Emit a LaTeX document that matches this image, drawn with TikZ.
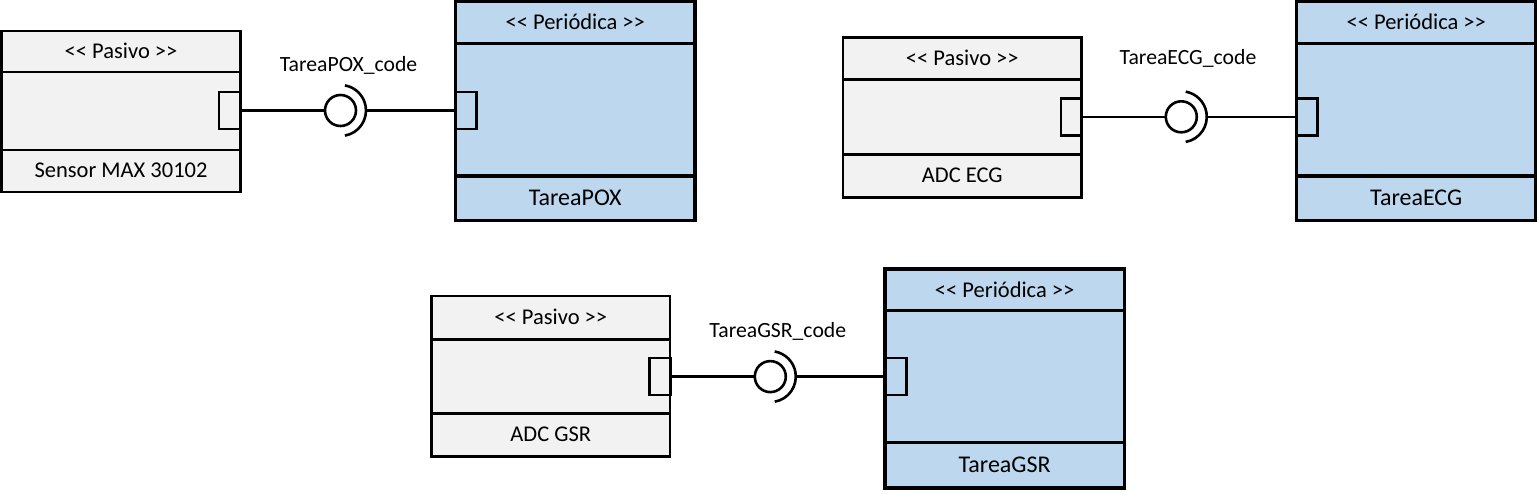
\documentclass[tikz,border=0pt]{standalone}
\usepackage{fontspec}
\setmainfont{Carlito}
\definecolor{pasfill}{HTML}{F2F2F2}
\definecolor{perfill}{HTML}{BDD7EE}
\tikzset{
  pas/.style={draw, line width=2.6pt, fill=pasfill, minimum width=238.5pt, inner sep=0pt,
    font=\fontsize{22.5}{27}\selectfont, text height=13.5pt, text depth=0pt},
  per/.style={draw, line width=3.2pt, fill=perfill, minimum width=239.5pt, inner sep=0pt,
    font=\fontsize{22.5}{27}\selectfont, text height=15pt, text depth=0pt},
  pername/.style={per, font=\fontsize{24}{29}\selectfont, text height=15pt},
  port/.style={draw, line width=2.6pt, minimum width=21pt, minimum height=37pt, inner sep=0pt},
  iface/.style={circle, draw, line width=2.6pt, minimum size=31pt, inner sep=0pt, fill=white},
  lbl/.style={font=\fontsize{21.7}{26}\selectfont, anchor=base, inner sep=0pt},
  wire/.style={line width=2.6pt}
}
\begin{document}
\begin{tikzpicture}[x=1pt,y=-1pt]
\useasboundingbox (0,0) rectangle (1537,495);
% ---------- Group 1: POX ----------
\node[pas, minimum height=41pt] (P1h) at (121,51.5) {<{}< Pasivo >{}>};
\node[pas, minimum height=78pt] (P1m) at (121,111) {};
\node[pas, minimum height=42pt] (P1f) at (121,171) {Sensor MAX 30102};
\node[port] (P1p) at (229.5,110.5) {};
\node[per, minimum height=42pt] (R1h) at (455.5+119.75,22.5) {<{}< Periódica >{}>};
\node[per, minimum height=132.5pt] (R1m) at (455.5+119.75,109.75) {};
\node[pername, minimum height=44.5pt] (R1f) at (455.5+119.75,198.25) {TareaPOX};
\node[port] (R1p) at (466,110.5) {};
\node[iface] (I1) at (340.5,110.5) {};
\path (I1.center) ++(25.5pt,0) coordinate (A1);
\draw[wire] (I1.center) ++(-80:25.5pt) arc[start angle=-80, end angle=80, radius=25.5pt];
\draw[wire] (P1p.east) -- (I1.west);
\draw[wire] (A1) -- (R1p.west);
\node[lbl] (L1) at (348.5,71.7) {TareaPOX\_code};
% ---------- Group 2: ECG ----------
\node[pas, minimum height=42pt] (P2h) at (962.25,58.3) {<{}< Pasivo >{}>};
\node[pas, minimum height=75.2pt] (P2m) at (962.25,116.9) {};
\node[pas, minimum height=42.8pt] (P2f) at (962.25,175.9) {ADC ECG};
\node[port] (P2p) at (1071.5,116.8) {};
\node[per, minimum height=42pt] (R2h) at (1296.7+119.5,22.5) {<{}< Periódica >{}>};
\node[per, minimum height=132.5pt] (R2m) at (1296.7+119.5,109.75) {};
\node[pername, minimum height=44.5pt] (R2f) at (1296.7+119.5,198.25) {TareaECG};
\node[port] (R2p) at (1307.2,116.8) {};
\node[iface] (I2) at (1181.3,116.8) {};
\path (I2.center) ++(25.5pt,0) coordinate (A2);
\draw[wire] (I2.center) ++(-80:25.5pt) arc[start angle=-80, end angle=80, radius=25.5pt];
\draw[wire] (P2p.east) -- (I2.west);
\draw[wire] (A2) -- (R2p.west);
\node[lbl] (L2) at (1188,64) {TareaECG\_code};
% ---------- Group 3: GSR ----------
\node[pas, minimum height=43.3pt] (P3h) at (550.75,317.65) {<{}< Pasivo >{}>};
\node[pas, minimum height=74.4pt] (P3m) at (550.75,376.5) {};
\node[pas, minimum height=42.6pt] (P3f) at (550.75,435) {ADC GSR};
\node[port] (P3p) at (660,376.6) {};
\node[per, minimum height=41.3pt] (R3h) at (885+119.65,289.65) {<{}< Periódica >{}>};
\node[per, minimum height=132.2pt] (R3m) at (885+119.65,376.4) {};
\node[pername, minimum height=45.5pt] (R3f) at (885+119.65,465.25) {TareaGSR};
\node[port] (R3p) at (896,376.6) {};
\node[iface] (I3) at (770.3,376.6) {};
\path (I3.center) ++(25.5pt,0) coordinate (A3);
\draw[wire] (I3.center) ++(-80:25.5pt) arc[start angle=-80, end angle=80, radius=25.5pt];
\draw[wire] (P3p.east) -- (I3.west);
\draw[wire] (A3) -- (R3p.west);
\node[lbl] (L3) at (777.8,337.7) {TareaGSR\_code};
\end{tikzpicture}
\end{document}
